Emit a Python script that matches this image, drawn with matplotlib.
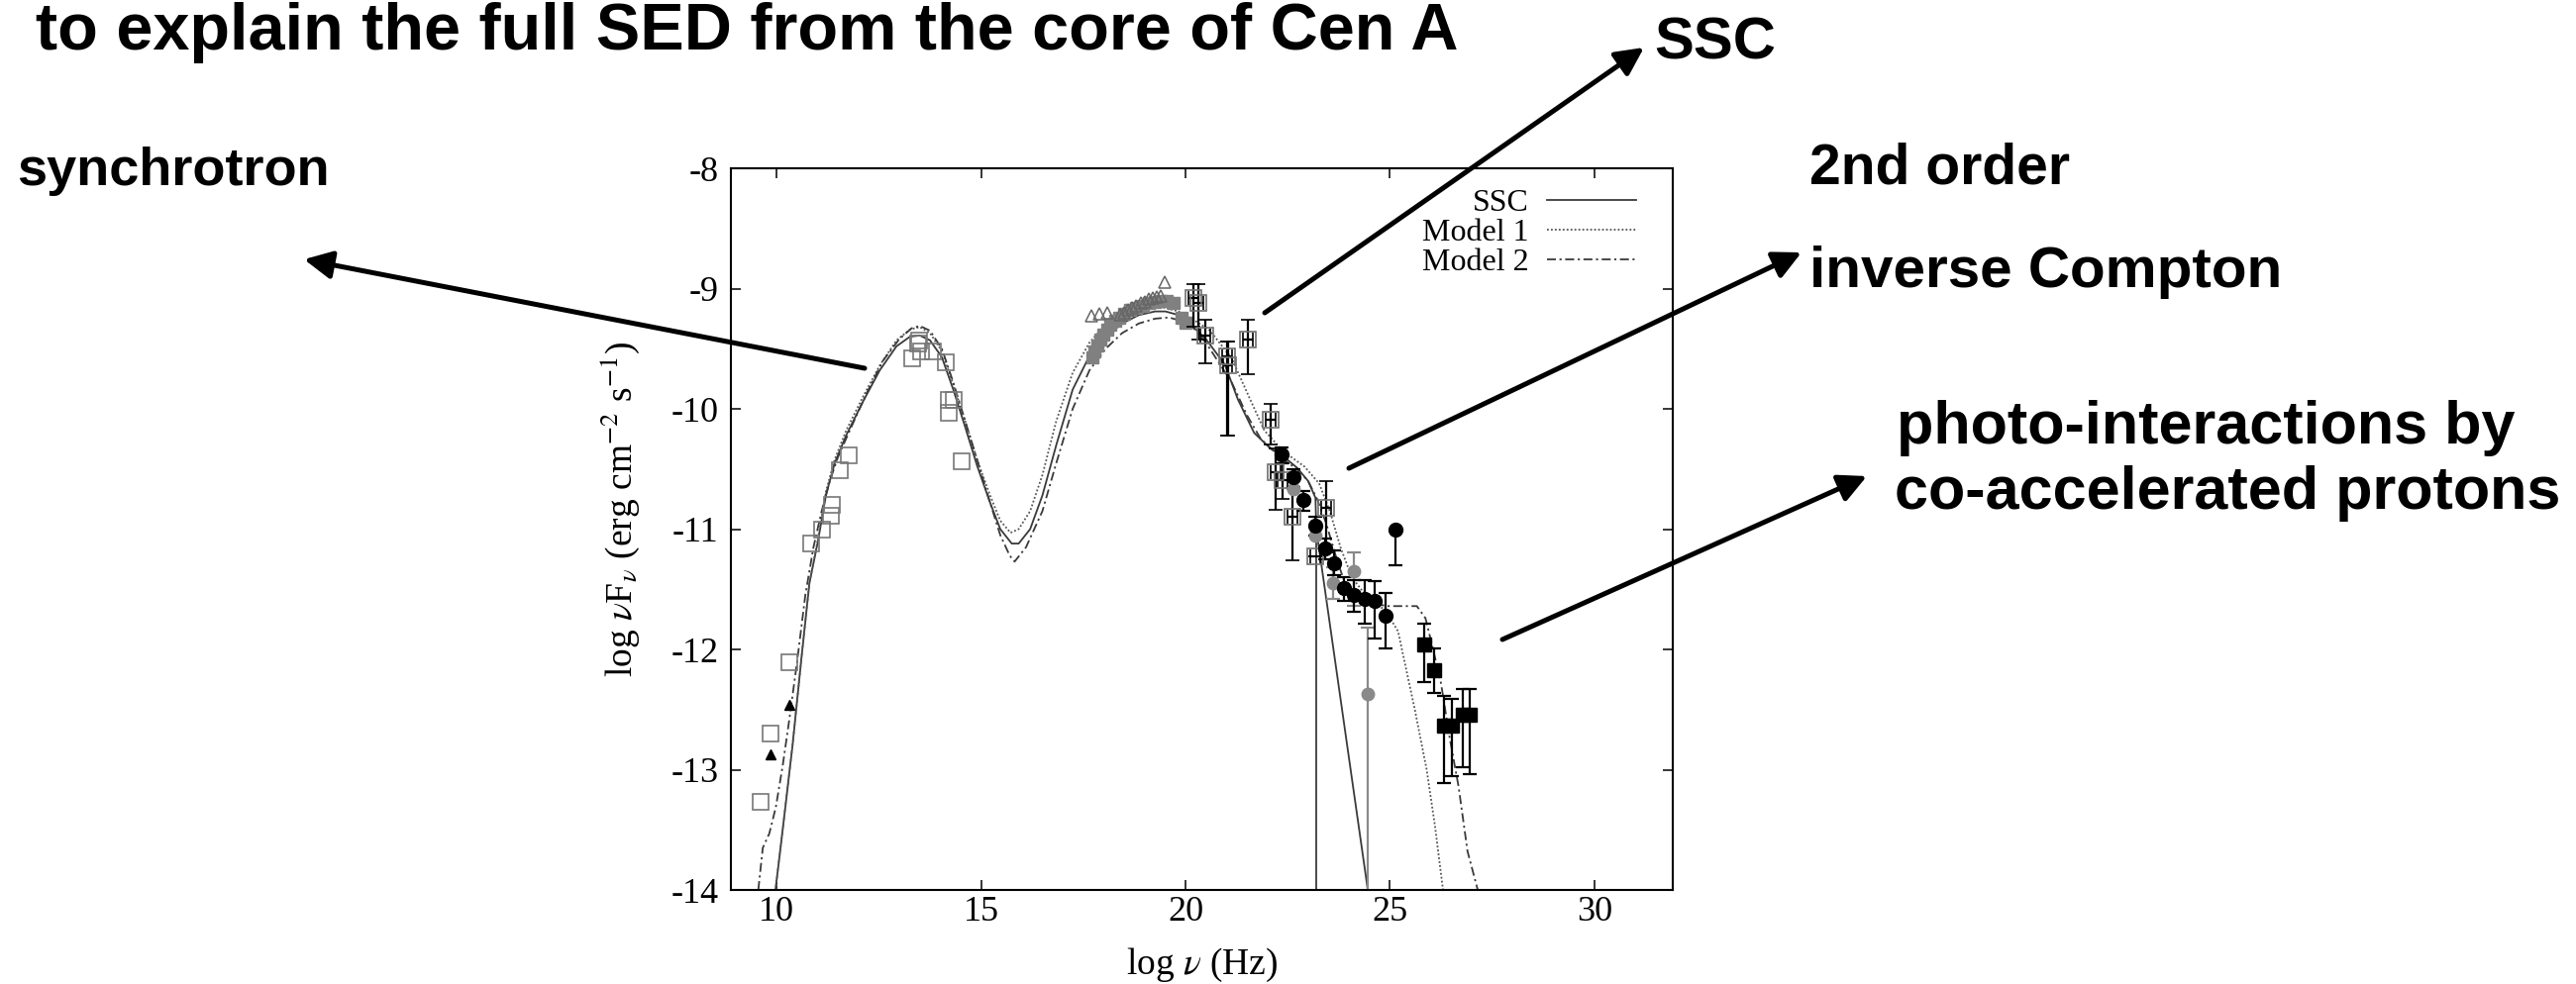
import matplotlib
matplotlib.use("Agg")
import matplotlib.pyplot as plt
from matplotlib.patches import FancyArrowPatch

plt.rcParams["axes.unicode_minus"] = False
plt.rcParams["mathtext.fontset"] = "stix"

## model curves (log nu, log nuFnu)
ssc_x = [9.97, 10.15, 10.39, 10.6, 10.8, 11.01, 11.21, 11.42, 11.7, 12.11, 12.52, 12.93, 13.26, 13.5,
         13.75, 14.04, 14.32, 14.61, 14.9, 15.22, 15.47, 15.75, 15.92, 16.2, 16.5, 16.84, 17.24, 17.65,
         18.05, 18.45, 18.86, 19.26, 19.51, 19.83, 20.07, 20.5, 20.96, 21.28, 21.68, 22.08, 22.41, 22.73,
         23.0, 23.18, 23.2, 24.46]
ssc_y = [-14.0, -13.49, -12.79, -12.09, -11.45, -11.1, -10.71, -10.45, -10.22, -9.94, -9.68, -9.48, -9.4, -9.39,
         -9.43, -9.57, -9.84, -10.15, -10.47, -10.78, -11.0, -11.12, -11.12, -11.0, -10.72, -10.3, -9.84, -9.56,
         -9.4, -9.29, -9.22, -9.19, -9.19, -9.22, -9.28, -9.42, -9.63, -9.92, -10.2, -10.33, -10.4, -10.49,
         -10.6, -10.74, -11.0, -14.0]
ssc_cut_x = 23.2

m1_x = [9.97, 10.15, 10.39, 10.6, 10.8, 11.01, 11.21, 11.42, 11.7, 12.11, 12.52, 12.93, 13.26, 13.5,
        13.75, 14.04, 14.32, 14.61, 14.9, 15.22, 15.47, 15.72, 15.92, 16.2, 16.5, 16.84, 17.24, 17.65,
        18.05, 18.45, 18.86, 19.26, 19.5, 19.83, 20.2, 20.6, 21.13, 21.58, 21.93, 22.38, 22.91, 23.27,
        23.54, 23.8, 24.07, 24.34, 24.6, 24.9, 25.2, 25.61, 25.9, 26.1, 26.3]
m1_y = [-14.0, -13.49, -12.79, -12.09, -11.45, -11.08, -10.68, -10.42, -10.18, -9.9, -9.64, -9.43, -9.34, -9.32,
        -9.37, -9.52, -9.8, -10.1, -10.42, -10.72, -10.93, -11.03, -11.0, -10.85, -10.55, -10.1, -9.7, -9.45,
        -9.3, -9.22, -9.17, -9.15, -9.16, -9.19, -9.26, -9.35, -9.58, -9.92, -10.18, -10.35, -10.48, -10.62,
        -10.86, -11.16, -11.4, -11.52, -11.6, -11.68, -11.85, -12.5, -13.0, -13.46, -14.0]

m2_x = [9.55, 9.66, 9.82, 9.98, 10.15, 10.31, 10.5, 10.7, 10.9, 11.1, 11.3, 11.5, 11.8, 12.2, 12.6,
        13.0, 13.3, 13.5, 13.75, 14.04, 14.32, 14.61, 14.9, 15.22, 15.47, 15.7, 15.82, 16.1, 16.5, 16.84,
        17.24, 17.65, 18.05, 18.45, 18.86, 19.26, 19.6, 19.9, 20.2, 20.5, 21.13, 21.5, 21.84, 22.38, 22.73,
        23.0, 23.22, 23.44, 23.7, 23.9, 24.2, 24.5, 24.9, 25.66, 25.87, 26.03, 26.25, 26.46, 26.68, 26.9, 27.15]
m2_y = [-14.0, -13.65, -13.53, -13.31, -12.96, -12.58, -12.1, -11.55, -11.15, -10.85, -10.6, -10.4, -10.17, -9.87, -9.6,
        -9.42, -9.33, -9.31, -9.35, -9.5, -9.78, -10.1, -10.42, -10.78, -11.05, -11.22, -11.27, -11.15, -10.85, -10.45,
        -10.0, -9.68, -9.5, -9.37, -9.29, -9.25, -9.24, -9.27, -9.33, -9.45, -9.78, -10.05, -10.25, -10.42, -10.5,
        -10.6, -10.75, -10.95, -11.25, -11.45, -11.55, -11.6, -11.64, -11.64, -11.74, -11.96, -12.28, -12.73, -13.14, -13.68, -14.0]

## radio / IR open squares
sync_x = [9.61, 9.85, 10.3, 10.85, 11.1, 11.33, 11.36, 11.54, 11.76, 13.32, 13.45, 13.48, 13.54, 13.82,
          14.13, 14.22, 14.22, 14.33, 14.52]
sync_y = [-13.27, -12.7, -12.11, -11.12, -11.0, -10.89, -10.8, -10.51, -10.39, -9.58, -9.46, -9.43, -9.52, -9.52,
          -9.61, -9.93, -10.03, -9.93, -10.44]
tri_x = [9.85, 10.3]
tri_y = [-12.87, -12.46]

## X-ray
xo_tri_x = [17.7, 17.89, 18.08, 18.4, 18.5, 18.6, 18.7, 18.8, 18.9, 19.0, 19.1, 19.2, 19.3, 19.4, 19.48]
xo_tri_y = [-9.23, -9.21, -9.2, -9.22, -9.2, -9.18, -9.16, -9.14, -9.12, -9.11, -9.09, -9.08, -9.07, -9.06, -8.95]
xg_sq_x = [17.72, 17.78, 17.85, 17.92, 18.0, 18.08, 18.17, 18.27, 18.38, 18.5, 18.65, 18.8, 18.95, 19.1,
           19.25, 19.4, 19.55, 19.7, 19.91, 19.99]
xg_sq_y = [-9.57, -9.52, -9.47, -9.42, -9.38, -9.34, -9.3, -9.27, -9.24, -9.21, -9.18, -9.16, -9.14, -9.12,
           -9.11, -9.1, -9.1, -9.12, -9.24, -9.28]

## open squares with error bars
eb_sq_x = [20.2, 20.31, 20.48, 21.01, 21.03, 21.52, 22.09, 22.2, 22.38, 22.61, 23.45, 23.17]
eb_sq_y = [-9.08, -9.12, -9.39, -9.56, -9.64, -9.42, -10.09, -10.53, -10.59, -10.9, -10.82, -11.23]
eb_sq_lo = [-9.32, -9.42, -9.62, -10.22, -10.22, -9.71, -10.3, -10.84, -10.75, -11.26, -11.19, -11.23]
eb_sq_hi = [-8.96, -8.96, -9.26, -9.44, -9.44, -9.26, -9.96, -10.33, -10.45, -10.59, -10.6, -11.23]

## gamma-ray filled circles
bc_x = [22.36, 22.63, 22.88, 23.17, 23.42, 23.63, 23.87, 24.11, 24.39, 24.63, 24.9, 25.14]
bc_y = [-10.38, -10.57, -10.76, -10.97, -11.16, -11.28, -11.49, -11.55, -11.58, -11.6, -11.72, -11.0]
bc_lo = [-10.45, -10.65, -10.85, -11.05, -11.25, -11.38, -11.6, -11.69, -11.79, -11.91, -11.99, -11.3]
bc_hi = [-10.32, -10.5, -10.68, -10.9, -11.08, -11.18, -11.4, -11.42, -11.42, -11.43, -11.53, -11.0]

gc_x = [22.63, 23.17, 23.6, 24.12, 24.47]
gc_y = [-10.67, -11.05, -11.45, -11.35, -12.37]
gc_lo = [-10.67, -11.05, -11.58, -11.64, -14.5]
gc_hi = [-10.67, -11.05, -11.32, -11.19, -11.82]

## TeV filled squares
bs_x = [25.85, 26.08, 26.32, 26.51, 26.78, 26.96]
bs_y = [-11.96, -12.17, -12.63, -12.63, -12.54, -12.54]
bs_lo = [-12.27, -12.36, -13.11, -13.05, -12.98, -13.04]
bs_hi = [-11.79, -11.99, -12.39, -12.41, -12.33, -12.33]

W, H = 2601, 994
fig = plt.figure(figsize=(W / 100, H / 100), dpi=100)
ax = fig.add_axes([738 / W, 1 - 899 / H, 951 / W, 729 / H])

serif = "Liberation Serif"

ssc_line, = ax.plot(ssc_x, ssc_y, "-", color="#3a3a3a", lw=1.3, label="SSC")
ax.plot([ssc_cut_x, ssc_cut_x], [-11.0, -14.5], "-", color="#3a3a3a", lw=1.3)
m1_line, = ax.plot(m1_x, m1_y, color="#555555", lw=1.3, linestyle=(0, (1, 1.2)), label="Model 1")
m2_line, = ax.plot(m2_x, m2_y, color="#3a3a3a", lw=1.3, linestyle=(0, (5, 2, 1.2, 2)), label="Model 2")

ax.plot(sync_x, sync_y, "s", mfc="none", mec="#777777", ms=11, mew=1.2)
ax.plot(tri_x, tri_y, "^", color="black", ms=7)
ax.plot(xg_sq_x, xg_sq_y, "s", color="#808080", ms=9)
ax.plot(xo_tri_x, xo_tri_y, "^", mfc="none", mec="#666666", ms=9, mew=1.1)

def ebar(x, y, lo, hi, ecol="black", **kw):
    err = [[yy - l for yy, l in zip(y, lo)], [h - yy for yy, h in zip(y, hi)]]
    ax.errorbar(x, y, yerr=err, ecolor=ecol, elinewidth=1.6, capsize=5, capthick=1.6, **kw)

ebar(eb_sq_x, eb_sq_y, eb_sq_lo, eb_sq_hi, xerr=0.12, fmt="s", mfc="none", mec="#707070", ms=11, mew=1.2)
ebar(gc_x, gc_y, gc_lo, gc_hi, ecol="#8a8a8a", fmt="o", color="#8a8a8a", ms=9)
ebar(bc_x, bc_y, bc_lo, bc_hi, fmt="o", color="black", ms=10)
ebar(bs_x, bs_y, bs_lo, bs_hi, fmt="s", color="black", ms=10)

ax.set_xlim(8.88, 31.92)
ax.set_ylim(-14, -8)
ax.set_xticks([10, 15, 20, 25, 30])
ax.set_yticks([-14, -13, -12, -11, -10, -9, -8])
ax.tick_params(direction="in", length=7, width=1.1, top=True, right=True, labelsize=26)
ax.tick_params(axis="x", pad=4)
ax.tick_params(axis="y", pad=9)
for lab in ax.get_xticklabels() + ax.get_yticklabels():
    lab.set_fontfamily(serif)
for sp in ax.spines.values():
    sp.set_linewidth(1.5)

ax.set_ylabel(r"log $\nu$F$_\nu$ (erg cm$^{-2}$ s$^{-1}$)", fontsize=27, family=serif)
ax.yaxis.set_label_coords(-0.118, 0.528)
ax.yaxis.label.set_va("center")
ax.set_xlabel(r"log $\nu$ (Hz)", fontsize=27, family=serif)
ax.xaxis.set_label_coords(0.5, -(984 - 899) / 729)
ax.xaxis.label.set_va("baseline")

ax.legend(handles=[ssc_line, m1_line, m2_line], loc="upper right",
          bbox_to_anchor=(0.961, 0.972), markerfirst=False, frameon=False,
          prop={"family": serif, "size": 23}, handlelength=2.8,
          labelspacing=0.02, handletextpad=0.6, borderaxespad=0, borderpad=0)

## slide annotations in figure pixels
def fx(px):
    return px / W

def fy(py):
    return 1 - py / H

def bold(size):
    return dict(family="Liberation Sans", weight="bold", fontsize=size, va="baseline", ha="left")

fig.text(fx(36), fy(50), "to explain the full SED from the core of Cen A", **bold(48))
fig.text(fx(17), fy(187), "synchrotron", **bold(39))
fig.text(fx(1670), fy(60), "SSC", **bold(43))
fig.text(fx(1827), fy(186), "2nd order", **bold(41))
fig.text(fx(1827), fy(290), "inverse Compton", **bold(42))
fig.text(fx(1915), fy(448), "photo-interactions by", **bold(44))
fig.text(fx(1913), fy(514), "co-accelerated protons", **bold(44))

arrows = [((873, 372), (307, 262)),
          ((1277, 316), (1660, 48)),
          ((1362, 473), (1819, 255)),
          ((1517, 646), (1885, 481))]
for (x0, y0), (x1, y1) in arrows:
    fig.add_artist(FancyArrowPatch((fx(x0), fy(y0)), (fx(x1), fy(y1)), transform=fig.transFigure,
                                   arrowstyle="-|>,head_length=17,head_width=8.5", mutation_scale=1,
                                   lw=3.6, color="black", shrinkA=0, shrinkB=0))

fig.savefig("out.png", dpi=100)
